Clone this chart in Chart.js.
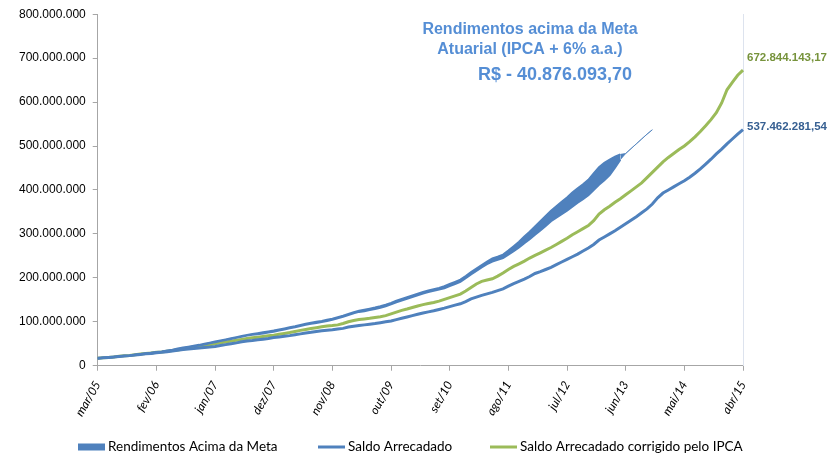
<!DOCTYPE html>
<html>
<head>
<meta charset="utf-8">
<script src="https://cdn.jsdelivr.net/npm/chart.js@4.4.0/dist/chart.umd.min.js"></script>
<style>
  html, body { margin: 0; padding: 0; background: #fff; }
</style>
</head>
<body>
<canvas id="chart" width="833" height="459"></canvas>
<script>
// meses mar/05 .. abr/15
const monthNames = ['jan', 'fev', 'mar', 'abr', 'mai', 'jun', 'jul', 'ago', 'set', 'out', 'nov', 'dez'];
const labels = [];
for (let k = 2; k < 2 + 122; k++) {
    const yy = 5 + Math.floor(k / 12);
    labels.push(monthNames[k % 12] + '/' + String(yy).padStart(2, '0'));
}

// valores em milhoes de R$
const saldoArrecadado = [
    17.0, 18.0, 19.0, 20.0, 21.0, 22.0, 23.0, 24.5, 25.5, 27.0,
    28.0, 29.5, 30.5, 32.0, 33.5, 35.0, 37.0, 38.0, 39.0, 40.5,
    41.5, 42.5, 44.0, 46.0, 48.0, 50.0, 52.0, 54.5, 56.5, 57.5,
    59.0, 60.5, 62.0, 64.0, 65.5, 67.0, 68.5, 70.5, 72.5, 74.5,
    76.0, 78.0, 79.5, 81.0, 82.0, 83.5, 85.0, 88.0, 90.0, 91.5,
    93.0, 94.5, 96.0, 98.0, 100.0, 102.0, 105.0, 108.0, 111.0, 114.0,
    117.0, 120.0, 122.5, 125.0, 128.0, 131.0, 134.5, 138.0, 141.0, 146.0,
    152.0, 156.0, 160.0, 163.5, 167.0, 171.0, 175.0, 181.0, 187.0, 192.0,
    197.0, 203.0, 210.0, 214.0, 219.0, 224.0, 230.0, 236.0, 242.0, 248.0,
    254.0, 261.0, 268.0, 276.0, 286.0, 293.0, 300.0, 307.0, 315.0, 323.0,
    331.0, 339.0, 348.0, 357.0, 368.0, 382.0, 393.0, 400.0, 407.0, 414.0,
    421.0, 429.0, 438.0, 448.0, 459.0, 470.0, 482.0, 493.0, 505.0, 516.0,
    527.0, 537.46
];

const saldoCorrigidoIPCA = [
    17.0, 18.0, 19.0, 20.0, 21.5, 22.5, 23.5, 25.0, 26.5, 28.0,
    29.0, 30.5, 31.5, 33.0, 34.5, 36.0, 38.0, 39.5, 41.0, 43.0,
    45.0, 47.5, 50.0, 52.0, 54.0, 56.0, 58.0, 60.0, 62.0, 63.5,
    65.0, 66.5, 68.0, 69.5, 71.5, 73.5, 75.5, 78.0, 80.5, 82.5,
    84.5, 86.5, 88.5, 90.5, 91.5, 93.0, 96.0, 100.0, 103.0, 105.0,
    106.5, 108.0, 110.0, 111.5, 114.0, 118.0, 122.0, 126.0, 129.0, 132.5,
    136.0, 139.0, 141.5, 144.0, 147.0, 151.0, 155.0, 159.0, 163.0, 170.0,
    178.0, 186.0, 192.0, 195.0, 198.0, 204.0, 211.0, 219.0, 226.0, 232.0,
    238.0, 245.0, 251.0, 257.0, 263.0, 269.0, 276.0, 283.0, 290.0, 298.0,
    305.0, 312.0, 319.0, 330.0, 345.0, 355.0, 363.0, 372.0, 380.0, 389.0,
    398.0, 407.0, 416.0, 428.0, 440.0, 452.0, 464.0, 474.0, 483.0, 492.0,
    500.0, 510.0, 521.0, 533.0, 546.0, 560.0, 576.0, 598.0, 628.0, 645.0,
    661.0, 672.84
];

// faixa "Rendimentos Acima da Meta": limite superior e inferior
const rendTopo = [
    17.0, 18.0, 19.0, 20.0, 21.5, 22.5, 23.5, 25.0, 26.5, 28.0,
    29.5, 31.0, 32.5, 34.5, 36.5, 39.0, 41.5, 43.5, 45.5, 47.5,
    50.0, 52.5, 55.0, 57.5, 60.0, 62.5, 65.0, 67.5, 70.0, 72.0,
    74.0, 76.0, 78.0, 80.0, 82.5, 85.0, 87.5, 90.0, 93.0, 95.5,
    98.0, 100.0, 102.0, 104.5, 107.0, 110.5, 114.0, 118.0, 122.0, 125.0,
    127.5, 130.0, 132.5, 135.5, 139.0, 143.0, 148.0, 152.0, 156.0, 160.0,
    164.0, 168.0, 171.0, 174.0, 177.0, 181.0, 186.0, 191.0, 196.0, 204.0,
    213.0, 221.0, 229.0, 237.0, 244.0, 248.0, 253.0, 262.0, 272.0, 282.0,
    294.0, 305.0, 317.0, 329.0, 341.0, 353.0, 363.0, 373.0, 383.0, 394.0,
    404.0, 413.0, 423.0, 438.0, 452.0, 462.0, 469.0, 476.0, 481.0, 483.0,
    494.0, 505.0, 516.0, 527.0, 537.0
];
const rendBase = [
    16.5, 17.5, 18.5, 19.5, 21.0, 22.0, 23.0, 24.5, 26.0, 27.5,
    28.0, 29.5, 31.0, 33.0, 35.0, 37.5, 40.0, 42.0, 44.0, 46.0,
    48.5, 51.0, 53.5, 56.0, 58.5, 61.0, 63.5, 66.0, 68.5, 70.5,
    71.5, 73.5, 75.5, 77.5, 80.0, 82.5, 85.0, 87.5, 90.5, 93.0,
    95.5, 97.5, 99.5, 102.0, 104.5, 108.0, 111.5, 115.5, 119.5, 122.5,
    124.0, 126.5, 129.0, 132.0, 135.5, 139.5, 144.5, 148.5, 152.5, 156.5,
    160.5, 164.5, 167.5, 170.5, 173.5, 176.0, 181.0, 186.0, 191.0, 199.0,
    208.0, 216.0, 224.0, 231.0, 237.0, 241.0, 245.0, 253.0, 261.0, 269.0,
    279.0, 288.0, 298.0, 308.0, 318.0, 329.0, 337.0, 345.0, 353.0, 362.0,
    371.0, 379.0, 388.0, 400.0, 412.0, 422.0, 434.0, 451.0, 469.0, 483.0,
    494.0, 505.0, 516.0, 527.0, 537.0
];

const yTickLabels = ['0', '100.000.000', '200.000.000', '300.000.000', '400.000.000',
    '500.000.000', '600.000.000', '700.000.000', '800.000.000'];
const endLabels = ['537.462.281,54', '672.844.143,17'];
const headline = ['Rendimentos acima da Meta', 'Atuarial (IPCA + 6% a.a.)', 'R$ - 40.876.093,70'];

const BLUE = '#4f81bd';
const GREEN = '#9bbb59';
const AXIS = '#a6a6a6';

// legenda desenhada na mao, no estilo do Excel
const legendPlugin = {
    id: 'legendPlugin',
    afterDraw(chart) {
        const ctx = chart.ctx;
        const ds = chart.data.datasets;
        const items = [
            { d: ds[1], x: 78, kind: 'rect' },
            { d: ds[2], x: 318, kind: 'line' },
            { d: ds[3], x: 490, kind: 'line' }
        ];
        const y = 447;
        ctx.save();
        ctx.font = '13.5px Lato, sans-serif';
        ctx.textBaseline = 'middle';
        ctx.textAlign = 'left';
        items.forEach(it => {
            if (it.kind === 'rect') {
                ctx.fillStyle = it.d.backgroundColor;
                ctx.fillRect(it.x, y - 3.5, 27, 7);
            } else {
                ctx.strokeStyle = it.d.borderColor;
                ctx.lineWidth = 3;
                ctx.beginPath();
                ctx.moveTo(it.x, y);
                ctx.lineTo(it.x + 27, y);
                ctx.stroke();
            }
            ctx.fillStyle = '#000';
            ctx.fillText(it.d.label, it.x + 30, y);
        });
        ctx.restore();
    }
};

// valores finais ao lado das linhas
const endLabelPlugin = {
    id: 'endLabelPlugin',
    afterDatasetsDraw(chart) {
        const ctx = chart.ctx;
        const specs = [
            { ds: 2, text: endLabels[0], color: '#376092', dy: -3 },
            { ds: 3, text: endLabels[1], color: '#77933c', dy: -12 }
        ];
        ctx.save();
        ctx.font = 'bold 11.5px "Liberation Sans", Arial, sans-serif';
        ctx.textAlign = 'left';
        ctx.textBaseline = 'middle';
        specs.forEach(s => {
            const pts = chart.getDatasetMeta(s.ds).data;
            const p = pts[pts.length - 1];
            ctx.fillStyle = s.color;
            ctx.fillText(s.text, p.x + 4, p.y + s.dy);
        });
        ctx.restore();
    }
};

const headlinePlugin = {
    id: 'headlinePlugin',
    afterDraw(chart) {
        const ctx = chart.ctx;
        ctx.save();
        ctx.fillStyle = '#558ed5';
        ctx.textAlign = 'center';
        ctx.textBaseline = 'alphabetic';
        ctx.font = 'bold 16px "Liberation Sans", Arial, sans-serif';
        ctx.fillText(headline[0], 530, 34);
        ctx.fillText(headline[1], 530, 54);
        ctx.font = 'bold 18px "Liberation Sans", Arial, sans-serif';
        ctx.fillText(headline[2], 555, 80);
        ctx.restore();
    }
};

const ctx = document.getElementById('chart').getContext('2d');
const chart = new Chart(ctx, {
    type: 'line',
    data: {
        labels: labels,
        datasets: [{
            label: 'base',
            data: rendBase,
            borderColor: BLUE,
            borderWidth: 2,
            pointRadius: 0,
            fill: false,
            segment: { borderWidth: c => c.p0DataIndex >= 98 ? 0.8 : 2 }
        }, {
            label: 'Rendimentos Acima da Meta',
            data: rendTopo,
            borderColor: BLUE,
            backgroundColor: BLUE,
            borderWidth: 2,
            pointRadius: 0,
            fill: '-1',
            segment: { borderWidth: c => c.p0DataIndex >= 98 ? 0.8 : 2 }
        }, {
            label: 'Saldo Arrecadado',
            data: saldoArrecadado,
            borderColor: BLUE,
            backgroundColor: BLUE,
            borderWidth: 3,
            pointRadius: 0,
            fill: false
        }, {
            label: 'Saldo Arrecadado corrigido pelo IPCA',
            data: saldoCorrigidoIPCA,
            borderColor: GREEN,
            backgroundColor: GREEN,
            borderWidth: 3,
            pointRadius: 0,
            fill: false
        }]
    },
    options: {
        responsive: false,
        animation: false,
        layout: { padding: { left: 12, right: 82, top: 11, bottom: 32 } },
        scales: {
            x: {
                offset: false,
                grid: {
                    drawOnChartArea: false,
                    tickLength: 5,
                    color: c => (c.index % 11 === 0 ? AXIS : 'transparent')
                },
                border: { color: AXIS },
                ticks: {
                    autoSkip: false,
                    minRotation: 60,
                    maxRotation: 60,
                    padding: 8,
                    color: '#000',
                    font: { family: 'Lato', size: 12, style: 'italic' },
                    callback: (v, i) => (i % 11 === 0 ? labels[i] : '')
                }
            },
            y: {
                min: 0,
                max: 800,
                grid: { drawOnChartArea: false, tickLength: 5, color: AXIS },
                border: { color: AXIS },
                ticks: {
                    stepSize: 100,
                    padding: 7,
                    color: '#000',
                    font: { family: 'Liberation Sans', size: 12 },
                    callback: v => yTickLabels[Math.round(v / 100)]
                }
            },
            y2: {
                position: 'right',
                grid: { display: false },
                ticks: { display: false },
                border: { color: '#dde3ee' }
            }
        },
        plugins: {
            tooltip: { enabled: false },
            legend: { display: false }
        }
    },
    plugins: [legendPlugin, endLabelPlugin, headlinePlugin]
});
</script>
</body>
</html>
